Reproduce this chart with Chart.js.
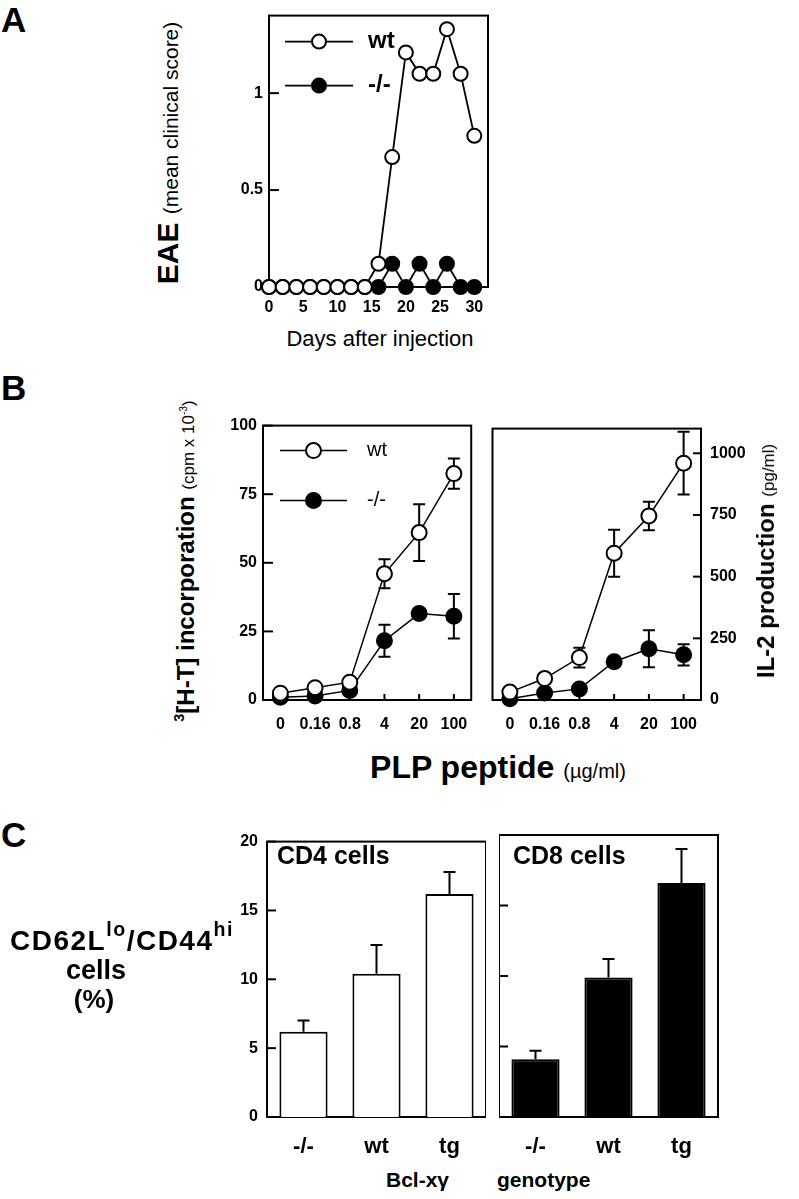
<!DOCTYPE html>
<html>
<head>
<meta charset="utf-8">
<script src="https://cdn.jsdelivr.net/npm/chart.js@4.4.1/dist/chart.umd.min.js"></script>
<style>
  body { margin: 0; background: #fff; }
  #page { position: relative; width: 799px; height: 1199px; overflow: hidden;
          font-family: 'Liberation Sans', Arial, sans-serif; color: #000; }
  canvas { position: absolute; }
  .t { position: absolute; white-space: nowrap; line-height: 1; }
  .rot { transform: translate(-50%, -50%) rotate(-90deg); }
  .ctr { transform: translateX(-50%); }
  sup { font-size: 0.6em; vertical-align: 0.7em; line-height: 0; }
</style>
</head>
<body>
<div id="page">
  <canvas id="chartA" width="274" height="322" style="left:224px;top:0px"></canvas>
  <canvas id="chartB1" width="270" height="330" style="left:213px;top:410px"></canvas>
  <canvas id="chartB2" width="273" height="330" style="left:483px;top:410px"></canvas>
  <canvas id="chartC1" width="264" height="339" style="left:222px;top:823px"></canvas>
  <canvas id="chartC2" width="224" height="339" style="left:499px;top:823px"></canvas>

  <div class="t" style="left:1px;top:2px;font-size:35px;font-weight:bold">A</div>
  <div class="t rot" style="left:168px;top:153px;font-size:30px">
    <b>EAE</b>&nbsp;<span style="font-size:21px">(mean clinical score)</span>
  </div>
  <div class="t ctr" style="left:380px;top:328px;font-size:22px">Days after injection</div>

  <div class="t" style="left:1px;top:370px;font-size:35px;font-weight:bold">B</div>
  <div class="t rot" style="left:186px;top:561px;font-size:24px;font-weight:bold">
    <sup>3</sup>[H-T] incorporation <span style="font-size:17px;font-weight:normal">(cpm x 10<sup>-3</sup>)</span>
  </div>
  <div class="t rot" style="left:766px;top:561px;font-size:24px;font-weight:bold">
    IL-2 production <span style="font-size:17px;font-weight:normal">(pg/ml)</span>
  </div>
  <div class="t ctr" style="left:498px;top:751px;font-size:32px;font-weight:bold">
    PLP peptide <span style="font-size:20px;font-weight:normal">(&micro;g/ml)</span>
  </div>

  <div class="t" style="left:1px;top:817px;font-size:35px;font-weight:bold">C</div>
  <div class="t" style="left:10px;top:927px;font-size:28px;font-weight:bold;letter-spacing:1.5px">CD62L<sup style="font-size:0.7em">lo</sup>/CD44<sup style="font-size:0.7em">hi</sup></div>
  <div class="t ctr" style="left:96px;top:957px;font-size:27px;font-weight:bold">cells</div>
  <div class="t ctr" style="left:94px;top:986px;font-size:26px;font-weight:bold">(%)</div>
  <div class="t" style="left:277px;top:843px;font-size:25px;font-weight:bold">CD4 cells</div>
  <div class="t" style="left:513px;top:843px;font-size:25px;font-weight:bold">CD8 cells</div>
  <div class="t" style="left:386px;top:1169px;font-size:21px;font-weight:bold">Bcl-x&gamma;</div>
  <div class="t" style="left:497px;top:1169px;font-size:21px;font-weight:bold">genotype</div>
</div>

<script>
// panel A: EAE score by day
const days = [0, 2, 4, 6, 8, 10, 12, 14, 16, 18, 20, 22, 24, 26, 28, 30];
const eaeWt = [0, 0, 0, 0, 0, 0, 0, 0, 0.12, 0.67, 1.21, 1.1, 1.1, 1.33, 1.1, 0.78];
const eaeKo = [0, 0, 0, 0, 0, 0, 0, 0, 0, 0.12, 0, 0.12, 0, 0.12, 0, 0];
const dayTicks = [0, 5, 10, 15, 20, 25, 30];
const eaeTicks = [0, 0.5, 1];

// panel B: proliferation and IL-2 vs PLP peptide dose
const doses = ['0', '0.16', '0.8', '4', '20', '100'];
const cpmWt = [2.5, 4.5, 6.5, 46, 61, 82.5];
const cpmWtErr = [0, 0, 0, 5.3, 10.3, 5.5];
const cpmKo = [1, 1.5, 3.5, 21.6, 31.5, 30.5];
const cpmKoErr = [0, 0, 0, 5.8, 0, 8.1];
const il2Wt = [32, 87, 172, 595, 746, 960];
const il2WtErr = [0, 0, 40, 95, 58, 127];
const il2Ko = [5, 28, 45, 155, 208, 183];
const il2KoErr = [0, 0, 0, 0, 75, 43];
const cpmTicks = [0, 25, 50, 75, 100];
const il2Ticks = [0, 250, 500, 750, 1000];

// panel C: CD62Llo/CD44hi cells by genotype
const genotypes = ['-/-', 'wt', 'tg'];
const cd4 = [6.2, 10.4, 16.2];
const cd4Err = [0.8, 2.1, 1.6];
const cd8 = [4.1, 9.9, 16.6];
const cd8Err = [0.6, 1.3, 2.4];
const pctTicks = [0, 5, 10, 15, 20];

Chart.defaults.font.family = "'Liberation Sans', Arial, sans-serif";
Chart.defaults.color = '#000';

const tickFont = { family: "'Liberation Sans', Arial, sans-serif", weight: 'bold', size: 16 };

// box round the plot area plus short tick marks pointing inward
const frame = {
  id: 'frame',
  beforeDatasetsDraw(chart, args, o) {
    const { ctx, chartArea: a } = chart;
    ctx.save();
    ctx.strokeStyle = '#000';
    ctx.lineWidth = 2;
    ctx.strokeRect(a.left, a.top, a.right - a.left, a.bottom - a.top);
    const y = chart.scales.y;
    if (o.yLen) {
      const right = y.position === 'right';
      const x0 = right ? a.right : a.left;
      y.ticks.forEach(t => {
        const py = y.getPixelForValue(t.value);
        ctx.beginPath();
        ctx.moveTo(x0, py);
        ctx.lineTo(x0 + (right ? -o.yLen : o.yLen), py);
        ctx.stroke();
      });
    }
    if (o.xLen) {
      const x = chart.scales.x;
      x.ticks.forEach((t, i) => {
        const px = x.getPixelForTick(i);
        ctx.beginPath();
        ctx.moveTo(px, a.bottom);
        ctx.lineTo(px, a.bottom - o.xLen);
        ctx.stroke();
      });
    }
    ctx.restore();
  }
};

const errorBars = {
  id: 'errorBars',
  beforeDatasetsDraw(chart) {
    const ctx = chart.ctx;
    ctx.save();
    ctx.strokeStyle = '#000';
    ctx.lineWidth = 2;
    chart.data.datasets.forEach((ds, di) => {
      if (!ds.errors) return;
      const meta = chart.getDatasetMeta(di);
      const y = chart.scales[meta.yAxisID];
      meta.data.forEach((el, i) => {
        const e = ds.errors[i];
        if (!e) return;
        const v = ds.data[i];
        const hi = y.getPixelForValue(v + e);
        const lo = ds.upOnly ? el.y : y.getPixelForValue(v - e);
        ctx.beginPath();
        ctx.moveTo(el.x, lo);
        ctx.lineTo(el.x, hi);
        ctx.moveTo(el.x - 6, hi);
        ctx.lineTo(el.x + 6, hi);
        if (!ds.upOnly) {
          ctx.moveTo(el.x - 6, lo);
          ctx.lineTo(el.x + 6, lo);
        }
        ctx.stroke();
      });
    });
    ctx.restore();
  }
};

// legend: short line with the marker in its middle, then the label
const lineKey = {
  id: 'lineKey',
  afterDatasetsDraw(chart, args, o) {
    if (!o.show) return;
    const { ctx, chartArea: a } = chart;
    ctx.save();
    chart.data.datasets.forEach((ds, i) => {
      const y = a.top + o.top + i * o.gap;
      const x0 = a.left + o.left;
      ctx.strokeStyle = '#000';
      ctx.lineWidth = ds.borderWidth;
      ctx.beginPath();
      ctx.moveTo(x0, y);
      ctx.lineTo(x0 + o.len, y);
      ctx.stroke();
      ctx.beginPath();
      ctx.arc(x0 + o.len / 2, y, ds.pointRadius, 0, Math.PI * 2);
      ctx.fillStyle = ds.pointBackgroundColor;
      ctx.fill();
      ctx.lineWidth = ds.pointBorderWidth;
      ctx.stroke();
      ctx.fillStyle = '#000';
      ctx.font = o.font;
      ctx.textBaseline = 'middle';
      ctx.fillText(ds.label, x0 + o.len + o.pad, y);
    });
    ctx.restore();
  }
};

function yAxis(vals, min, max, width, pad, pos, labels) {
  return {
    type: 'linear', position: pos, min: min, max: max,
    grid: { display: false, drawTicks: false },
    border: { display: false },
    ticks: { display: labels, font: tickFont, padding: pad, callback: v => String(v) },
    afterBuildTicks: s => { s.ticks = vals.map(v => ({ value: v })); },
    afterFit: s => { s.width = width; }
  };
}

function xCat(height, pad, font) {
  return {
    type: 'category', offset: true,
    grid: { display: false, drawTicks: false },
    border: { display: false },
    ticks: { font: font, padding: pad, autoSkip: false, maxRotation: 0 },
    afterFit: s => { s.height = height; }
  };
}

function lineSet(label, data, filled, errs, r, w) {
  return {
    label: label, data: data, errors: errs,
    borderColor: '#000', borderWidth: w,
    pointRadius: r, pointBorderWidth: 2, pointBorderColor: '#000',
    pointBackgroundColor: filled ? '#000' : '#fff',
    clip: false, tension: 0
  };
}

const base = {
  responsive: false, animation: false, events: [],
  plugins: { legend: { display: false }, tooltip: { enabled: false } }
};

// A
new Chart(document.getElementById('chartA'), {
  type: 'line',
  data: {
    datasets: [
      lineSet('wt', days.map((d, i) => ({ x: d, y: eaeWt[i] })), false, null, 7, 1.8),
      lineSet('-/-', days.map((d, i) => ({ x: d, y: eaeKo[i] })), true, null, 7, 1.8)
    ]
  },
  options: Object.assign({}, base, {
    layout: { padding: { top: 7, right: 10, left: 0, bottom: 0 } },
    scales: {
      x: {
        type: 'linear', min: 0, max: 32,
        grid: { display: false, drawTicks: false },
        border: { display: false },
        ticks: { font: tickFont, padding: 11, callback: v => String(v) },
        afterBuildTicks: s => { s.ticks = dayTicks.map(v => ({ value: v })); },
        afterFit: s => { s.height = 35; }
      },
      y: yAxis(eaeTicks, 0, 1.4, 45, 6, 'left', true)
    },
    plugins: Object.assign({}, base.plugins, {
      frame: { yLen: 10 },
      lineKey: { show: true, left: 16, top: 26, gap: 44, len: 68, pad: 15, font: "bold 24px 'Liberation Sans', Arial" }
    })
  }),
  plugins: [frame, errorBars, lineKey]
});

// B left: 3H-thymidine incorporation
new Chart(document.getElementById('chartB1'), {
  type: 'line',
  data: {
    labels: doses,
    datasets: [
      lineSet('wt', cpmWt, false, cpmWtErr, 7.5, 1.5),
      lineSet('-/-', cpmKo, true, cpmKoErr, 7.5, 1.5)
    ]
  },
  options: Object.assign({}, base, {
    layout: { padding: { top: 12, right: 0, left: 0, bottom: 0 } },
    scales: { x: xCat(40, 15, tickFont), y: yAxis(cpmTicks, 0, 100, 50, 6, 'left', true) },
    plugins: Object.assign({}, base.plugins, {
      frame: { yLen: 10, xLen: 6 },
      lineKey: { show: true, left: 17, top: 25, gap: 50, len: 67, pad: 20, font: "20px 'Liberation Sans', Arial" }
    })
  }),
  plugins: [frame, errorBars, lineKey]
});

// B right: IL-2 production
new Chart(document.getElementById('chartB2'), {
  type: 'line',
  data: {
    labels: doses,
    datasets: [
      lineSet('wt', il2Wt, false, il2WtErr, 7.5, 1.5),
      lineSet('-/-', il2Ko, true, il2KoErr, 7.5, 1.5)
    ]
  },
  options: Object.assign({}, base, {
    layout: { padding: { top: 12, right: 0, left: 0, bottom: 0 } },
    scales: { x: xCat(40, 15, tickFont), y: yAxis(il2Ticks, 0, 1100, 55, 9, 'right', true) },
    plugins: Object.assign({}, base.plugins, { frame: { yLen: 8, xLen: 6 } })
  }),
  plugins: [frame, errorBars]
});

const genoFont = { family: "'Liberation Sans', Arial, sans-serif", weight: 'bold', size: 22 };

function barSet(label, data, errs, fill) {
  return {
    label: label, data: data, errors: errs, upOnly: true,
    backgroundColor: fill, borderColor: '#000', borderWidth: 2,
    barPercentage: 0.66, categoryPercentage: 1
  };
}

// C left: CD4
new Chart(document.getElementById('chartC1'), {
  type: 'bar',
  data: { labels: genotypes, datasets: [barSet('CD4 cells', cd4, cd4Err, '#fff')] },
  options: Object.assign({}, base, {
    layout: { padding: { top: 12, right: 0, left: 0, bottom: 0 } },
    scales: { x: xCat(45, 17, genoFont), y: yAxis(pctTicks, 0, 20, 45, 9, 'left', true) },
    plugins: Object.assign({}, base.plugins, { frame: { yLen: 9 } })
  }),
  plugins: [frame, errorBars]
});

// C right: CD8
new Chart(document.getElementById('chartC2'), {
  type: 'bar',
  data: { labels: genotypes, datasets: [barSet('CD8 cells', cd8, cd8Err, '#000')] },
  options: Object.assign({}, base, {
    layout: { padding: { top: 12, right: 5, left: 0, bottom: 0 } },
    scales: { x: xCat(45, 17, genoFont), y: yAxis(pctTicks, 0, 20, 0, 0, 'left', false) },
    plugins: Object.assign({}, base.plugins, { frame: { yLen: 9 } })
  }),
  plugins: [frame, errorBars]
});
</script>
</body>
</html>
